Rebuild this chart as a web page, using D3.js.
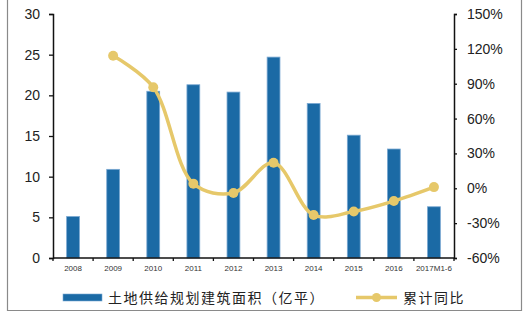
<!DOCTYPE html>
<html><head><meta charset="utf-8">
<script src="https://cdnjs.cloudflare.com/ajax/libs/d3/7.8.5/d3.min.js"></script>
<style>body{margin:0;background:#fff}svg{display:block}</style>
</head><body>
<svg id="c" width="524" height="322"></svg>
<script>
const categories = ["2008","2009","2010","2011","2012","2013","2014","2015","2016","2017M1-6"];
const areaValues = [5.1, 10.9, 20.5, 21.3, 20.4, 24.7, 19.0, 15.1, 13.4, 6.3];
const yoyCategories = ["2009","2010","2011","2012","2013","2014","2015","2016","2017M1-6"];
const yoyValues = [114, 87, 4, -4, 22, -23, -20, -11, 1];
const leftTicks = [0,5,10,15,20,25,30];
const rightTicks = [-60,-30,0,30,60,90,120,150];
const seriesNames = ["土地供给规划建筑面积（亿平）","累计同比"];

const svg = d3.select("#c");
const L = 53, R = 454, T = 14, B = 258;
const barColor = "#1b6aa5", lineColor = "#e6c86a";

// frame
svg.append("path").attr("d","M7.5,-1 V310.5 H521.5 V-1").attr("fill","none").attr("stroke","#8a8a8a").attr("stroke-width",1.2);

const x = d3.scaleBand().domain(categories).range([L,R]).paddingInner(0.68).paddingOuter(0.34);
const yL = d3.scaleLinear().domain([0,30]).range([B,T]);
const yR = d3.scaleLinear().domain([-60,150]).range([B,T]);

// bars
svg.append("g").selectAll("rect").data(categories).join("rect")
  .attr("x", d=>x(d)).attr("y", (d,i)=>yL(areaValues[i]))
  .attr("width", x.bandwidth()).attr("height",(d,i)=>B-yL(areaValues[i]))
  .attr("fill", barColor).attr("stroke","#7aa8d2").attr("stroke-width",0.8);

// left axis
const gl = svg.append("g").attr("transform",`translate(${L},0)`)
  .call(d3.axisLeft(yL).tickValues(leftTicks).tickSize(4).tickPadding(9));
gl.select(".domain").attr("stroke","#111").attr("stroke-width",1.5);
gl.selectAll(".tick line").attr("stroke","#111").attr("stroke-width",1.3);
gl.selectAll("text").attr("font-family","Liberation Sans, Arial, sans-serif").attr("font-size",14).attr("fill","#222");

// right axis
const gr = svg.append("g").attr("transform",`translate(${R},0)`)
  .call(d3.axisRight(yR).tickValues(rightTicks).tickSize(3).tickPadding(10).tickFormat(d=>d+"%"));
gr.select(".domain").attr("stroke","#111").attr("stroke-width",1.5);
gr.selectAll(".tick line").attr("stroke","#111").attr("stroke-width",1.3);
gr.selectAll("text").attr("font-family","Liberation Sans, Arial, sans-serif").attr("font-size",14).attr("fill","#222");

// x axis
const step = x.step();
const gx = svg.append("g").attr("transform",`translate(0,${B})`);
gx.append("line").attr("x1",L).attr("x2",R).attr("stroke","#111").attr("stroke-width",1.5);
const xb = d3.scalePoint().domain(d3.range(categories.length+1)).range([L,R]);
gx.selectAll("line.t").data(d3.range(categories.length+1)).join("line").attr("class","t")
  .attr("x1",d=>xb(d)).attr("x2",d=>xb(d)).attr("y1",0).attr("y2",3).attr("stroke","#111").attr("stroke-width",1.3);
gx.selectAll("text").data(categories).join("text")
  .attr("x",d=>x(d)+x.bandwidth()/2).attr("y",13).attr("text-anchor","middle")
  .attr("font-family","Liberation Sans, Arial, sans-serif").attr("font-size",8).attr("fill","#333").text(d=>d);

// line
const cx = d=>x(d)+x.bandwidth()/2;
const line = d3.line().x((d,i)=>cx(yoyCategories[i])).y(d=>yR(d)).curve(d3.curveCatmullRom.alpha(0.5));
svg.append("path").datum(yoyValues).attr("d",line).attr("fill","none").attr("stroke",lineColor).attr("stroke-width",3.5);
svg.append("g").selectAll("circle").data(yoyValues).join("circle")
  .attr("cx",(d,i)=>cx(yoyCategories[i])).attr("cy",d=>yR(d)).attr("r",5).attr("fill",lineColor);

// legend
const lg = svg.append("g");
lg.append("rect").attr("x",63).attr("y",294).attr("width",39).attr("height",7).attr("fill",barColor).attr("stroke","#7aa8d2").attr("stroke-width",0.6);
lg.append("text").attr("x",108).attr("y",303).attr("font-family","Noto Sans CJK SC, sans-serif").attr("font-size",14).attr("letter-spacing",1.5).attr("fill","#222").text(seriesNames[0]);
lg.append("line").attr("x1",356).attr("x2",397).attr("y1",297.5).attr("y2",297.5).attr("stroke",lineColor).attr("stroke-width",3.5);
lg.append("circle").attr("cx",376.5).attr("cy",297.5).attr("r",4.5).attr("fill",lineColor);
lg.append("text").attr("x",403).attr("y",303).attr("font-family","Noto Sans CJK SC, sans-serif").attr("font-size",14).attr("letter-spacing",1.5).attr("fill","#222").text(seriesNames[1]);
</script>
</body></html>
